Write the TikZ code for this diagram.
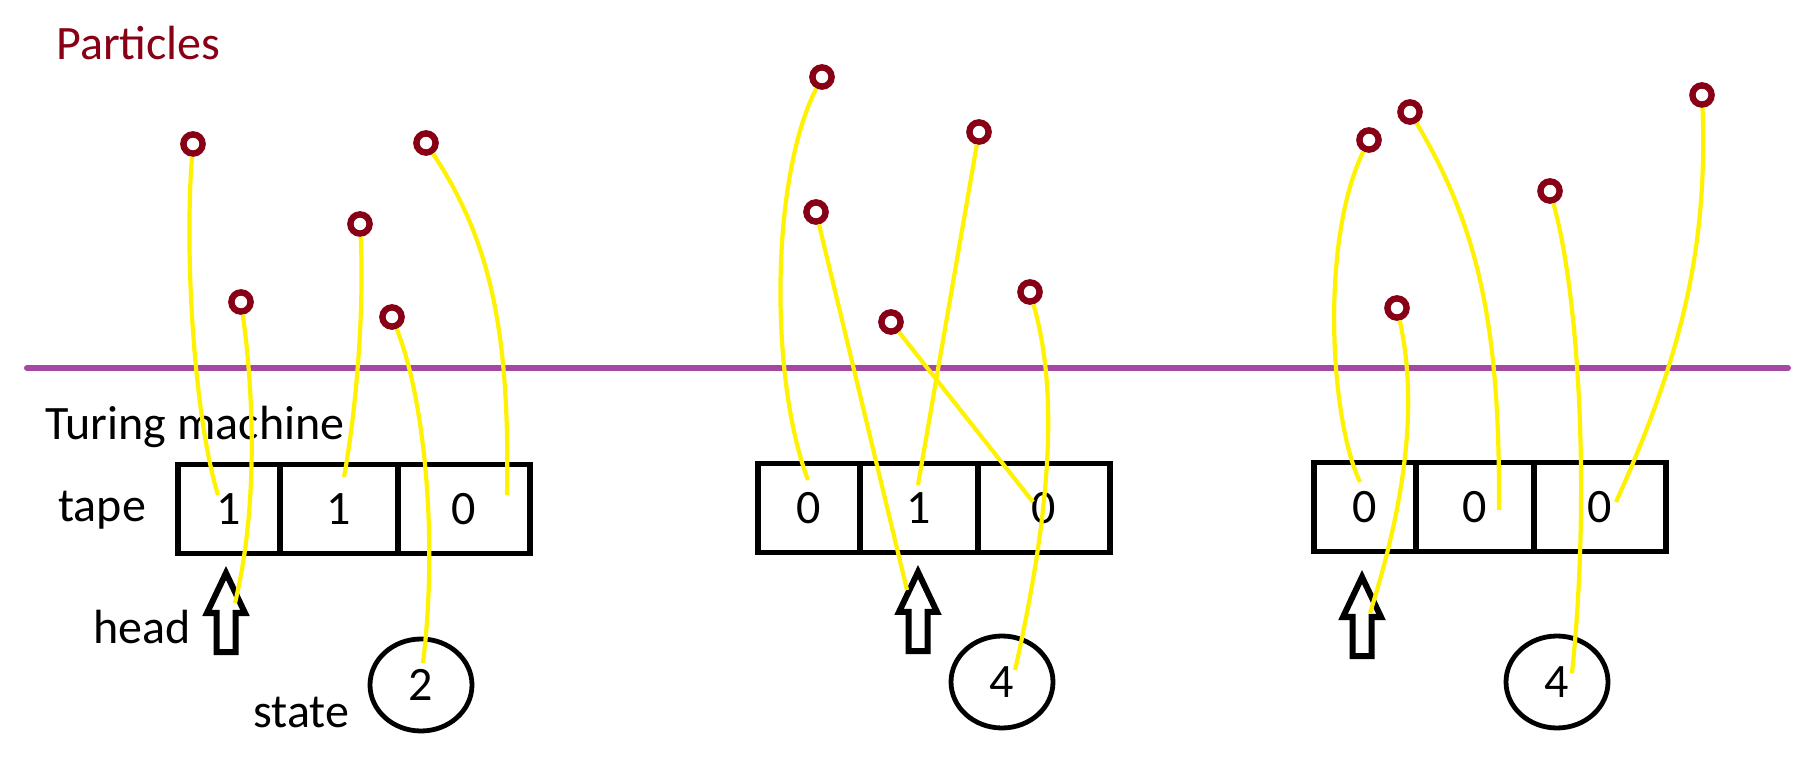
\documentclass[tikz,border=0pt]{standalone}
\usepackage{fontspec}
\setmainfont{Carlito}
\usetikzlibrary{positioning, shapes.geometric}

\definecolor{partred}{RGB}{136,0,21}
\definecolor{linepurple}{RGB}{163,73,164}
\definecolor{trailyellow}{RGB}{255,242,0}

\begin{document}
\begin{tikzpicture}[
    x=0.5pt, y=-0.5pt,
    font=\fontsize{24}{28}\selectfont,
    tmtext/.style={anchor=base west, inner sep=0pt},
    cell/.style={draw, line width=2.8pt, outer sep=0pt, minimum height=44.5pt, inner sep=0pt},
    cellA/.style={cell, minimum width=51pt},
    cellB/.style={cell, minimum width=59pt},
    cellC/.style={cell, minimum width=66pt},
    particle/.style={circle, draw=partred, line width=3.2pt, minimum size=9.6pt, inner sep=0pt},
    stateball/.style={ellipse, draw, line width=2.4pt, minimum width=51pt, minimum height=46pt, inner sep=0pt},
    trail/.style={trailyellow, line width=2.1pt},
    headarrow/.pic={\draw[line width=3pt] (0,0) -- (19,40) -- (9.5,40) -- (9.5,79) -- (-9.5,79) -- (-9.5,40) -- (-19,40) -- cycle;}
]
    \useasboundingbox (0,0) rectangle (1804,774);

    % 1. Linha divisoria
    \coordinate (pl) at (27,368);
    \coordinate (pr) at (1788,368);
    \draw[linepurple, line width=3pt, line cap=round] (pl) -- (pr);

    % 2. Textos
    \node[tmtext, text=partred] (ptitle) at (56,60) {Particles};
    \node[tmtext] (tmtitle) at (45,440) {Turing machine};
    \node[tmtext] (tapetxt) at (58,522) {tape};
    \node[tmtext] (headtxt) at (93,643) {head};
    \node[tmtext] (statetxt) at (253,727) {state};

    % 3. Fitas
    \node[cellA, anchor=west] (t11) at (178,509) {1\hspace{5pt}};
    \node[cellB, right=0pt of t11] (t12) {1\hspace{5pt}};
    \node[cellC, right=0pt of t12] (t13) {0\hspace{6pt}};

    \node[cellA, anchor=west] (t21) at (758,508) {0};
    \node[cellB, right=0pt of t21] (t22) {1\hspace{3pt}};
    \node[cellC, right=0pt of t22] (t23) {0\hspace{6pt}};

    \node[cellA, anchor=west] (t31) at (1314,507) {0};
    \node[cellB, right=0pt of t31] (t32) {0\hspace{8pt}};
    \node[cellC, right=0pt of t32] (t33) {0\hspace{9pt}};

    % 4. Cabecotes e estados
    \pic at (226,573) {headarrow};
    \pic at (918,572) {headarrow};
    \pic at (1362,577) {headarrow};

    \node[stateball] (s1) at (421,685) {2};
    \node[stateball] (s2) at (1002,682) {4};
    \node[stateball] (s3) at (1557,682) {4};

    % 5. Particulas
    \node[particle] (p1) at (193,144) {};
    \node[particle] (p2) at (241,302) {};
    \node[particle] (p3) at (360,224) {};
    \node[particle] (p4) at (392,317) {};
    \node[particle] (p5) at (426,143) {};
    \node[particle] (p6) at (822,77) {};
    \node[particle] (p7) at (979,132) {};
    \node[particle] (p8) at (816,212) {};
    \node[particle] (p9) at (891,322) {};
    \node[particle] (p10) at (1030,292) {};
    \node[particle] (p11) at (1369,140) {};
    \node[particle] (p12) at (1410,112) {};
    \node[particle] (p13) at (1397,308) {};
    \node[particle] (p14) at (1550,191) {};
    \node[particle] (p15) at (1702,95) {};

    % 6. Pontas livres dos fios
    \coordinate (e1) at (218,495);
    \coordinate (e2) at (235,603);
    \coordinate (e3) at (344,477);
    \coordinate (e4) at (423,663);
    \coordinate (e5) at (507,495);
    \coordinate (e6) at (808,480);
    \coordinate (e7) at (918,485);
    \coordinate (e8) at (907,590);
    \coordinate (e9) at (1033,502);
    \coordinate (e10) at (1015,670);
    \coordinate (e11) at (1360,482);
    \coordinate (e12) at (1499,510);
    \coordinate (e13) at (1370,613);
    \coordinate (e14) at (1572,673);
    \coordinate (e15) at (1616,502);

    % 7. Fios amarelos
    \draw[trail] (p1) .. controls (184,260) and (195,420) .. (e1);
    \draw[trail] (p2) .. controls (252,380) and (260,500) .. (e2);
    \draw[trail] (p3) .. controls (364,300) and (358,400) .. (e3);
    \draw[trail] (p4) .. controls (425,400) and (438,540) .. (e4);
    \draw[trail] (p5) .. controls (490,240) and (510,330) .. (e5);

    \draw[trail] (p6) .. controls (770,180) and (770,380) .. (e6);
    \draw[trail] (p7) -- (e7);
    \draw[trail] (p8) -- (e8);
    \draw[trail] (p9) -- (e9);
    \draw[trail] (p10) .. controls (1052,370) and (1060,470) .. (e10);

    \draw[trail] (p11) .. controls (1320,240) and (1330,420) .. (e11);
    \draw[trail] (p12) .. controls (1480,230) and (1500,330) .. (e12);
    \draw[trail] (p13) .. controls (1415,390) and (1412,480) .. (e13);
    \draw[trail] (p14) .. controls (1580,300) and (1590,500) .. (e14);
    \draw[trail] (p15) .. controls (1708,250) and (1680,360) .. (e15);

\end{tikzpicture}
\end{document}
